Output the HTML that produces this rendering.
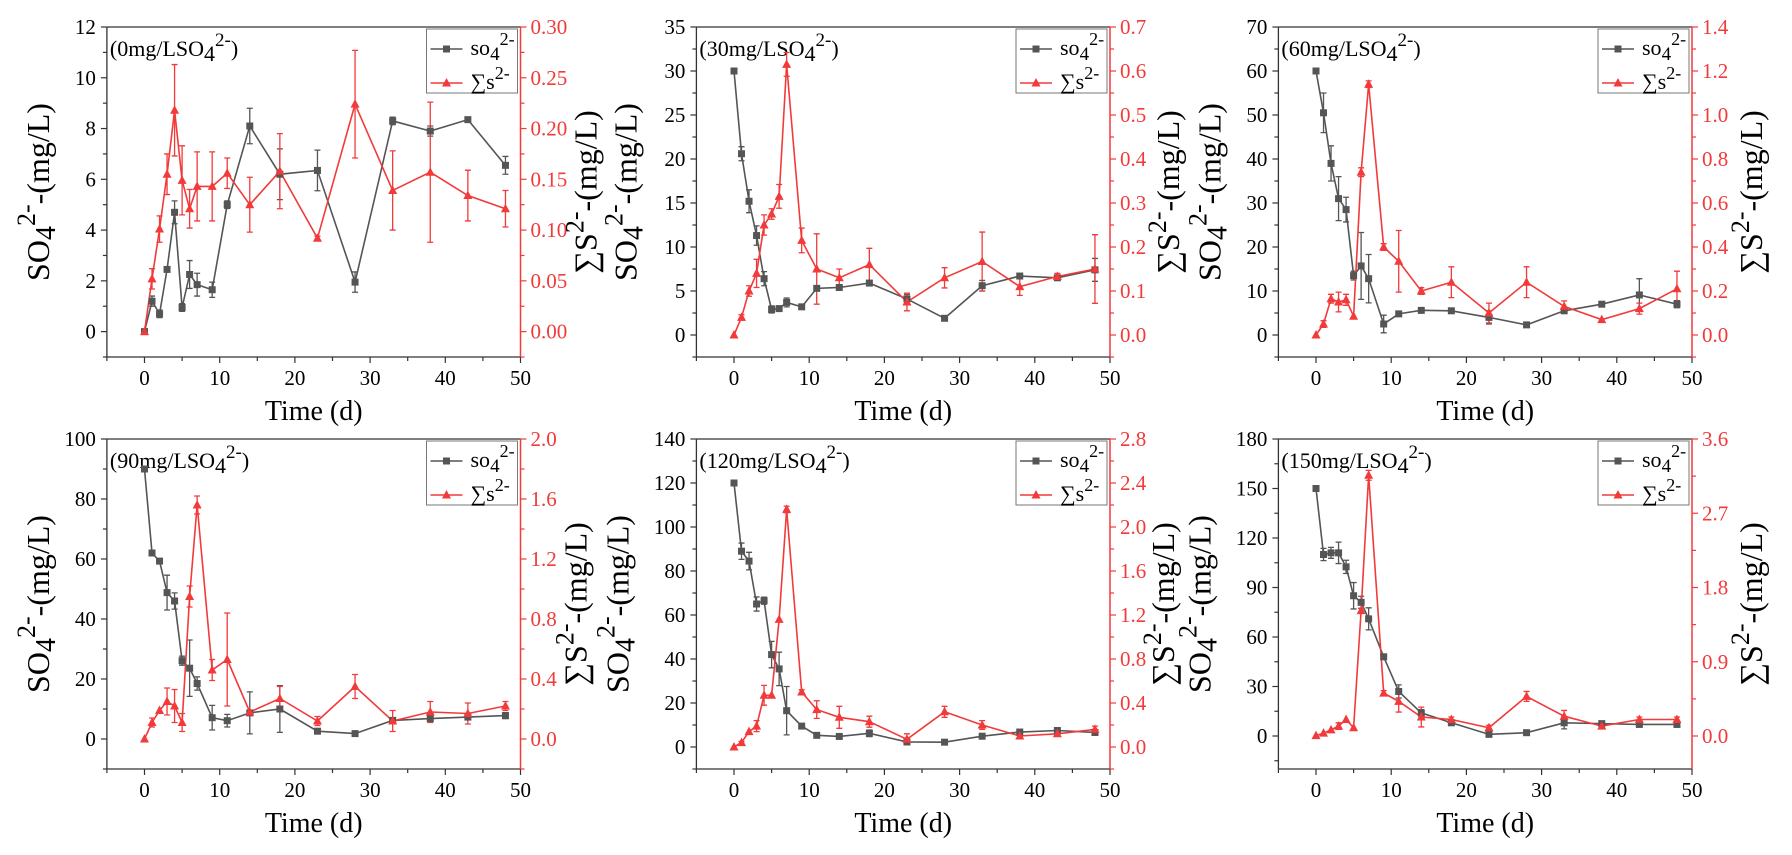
<!DOCTYPE html>
<html><head><meta charset="utf-8">
<style>
html,body{margin:0;padding:0;background:#fff;}
svg{display:block;font-family:"Liberation Serif",serif;}
</style></head>
<body>
<svg id="chart" width="1792" height="855" viewBox="0 0 1792 855" xmlns="http://www.w3.org/2000/svg"></svg>
<script>
// ---- data ----
const days = [0,1,2,3,4,5,6,7,9,11,14,18,23,28,33,38,43,48];
const xTicks = [0,10,20,30,40,50];
const panelLabels = ["0","30","60","90","120","150"];

const so4_p1 = [0,1.2,0.7,2.45,4.7,0.95,2.25,1.85,1.65,5.0,8.1,6.2,6.35,1.95,8.3,7.9,8.35,6.55];
const so4Err_p1 = [0,0.2,0.15,0,0.45,0.15,0.55,0.45,0.3,0.15,0.7,1.0,0.8,0.4,0.15,0.2,0,0.35];
const s_p1 = [0,0.052,0.101,0.155,0.218,0.149,0.121,0.143,0.143,0.156,0.125,0.158,0.092,0.224,0.139,0.157,0.134,0.121];
const sErr_p1 = [0,0.01,0.013,0.02,0.045,0.034,0.019,0.034,0.034,0.015,0.027,0.037,0.002,0.053,0.039,0.069,0.025,0.018];

const so4_p2 = [30,20.6,15.2,11.3,6.4,2.9,3.0,3.7,3.2,5.3,5.4,5.9,4.1,1.9,5.6,6.7,6.5,7.4];
const so4Err_p2 = [0,0.8,1.3,1.1,0.8,0.4,0,0.5,0,0,0,0.3,0.5,0,0.6,0,0,1.3];
const s_p2 = [0,0.04,0.10,0.14,0.25,0.275,0.315,0.615,0.215,0.15,0.13,0.16,0.075,0.13,0.167,0.11,0.133,0.15];
const sErr_p2 = [0,0.006,0.012,0.032,0.023,0.012,0.027,0.027,0.028,0.08,0.02,0.037,0.02,0.023,0.067,0.02,0.007,0.078];

const so4_p3 = [60,50.5,39,31,28.5,13.5,15.7,12.8,2.5,4.8,5.6,5.5,4,2.3,5.5,7,9.1,7];
const so4Err_p3 = [0,4.5,4,5,2.8,1,7.6,5.5,2,0,0,0,1.5,0,0,0,3.7,0.8];
const s_p3 = [0,0.05,0.165,0.15,0.16,0.085,0.74,1.14,0.4,0.335,0.2,0.24,0.1,0.24,0.13,0.07,0.12,0.21];
const sErr_p3 = [0,0.015,0.02,0.045,0.025,0,0.02,0.015,0.015,0.14,0.015,0.07,0.045,0.07,0.025,0,0.025,0.08];

const so4_p4 = [90,62,59.3,48.8,46,26.1,23.6,18.5,7.1,6.1,8.7,10,2.6,1.8,6.2,6.8,7.3,7.8];
const so4Err_p4 = [0,0,0,5.8,2.7,1.5,9.4,2.2,4.1,2.1,7,7.8,0,0,0.5,0.8,0.8,1];
const s_p4 = [0,0.11,0.19,0.25,0.22,0.11,0.95,1.56,0.46,0.53,0.18,0.27,0.12,0.35,0.12,0.18,0.17,0.22];
const sErr_p4 = [0,0.03,0,0.09,0.11,0.06,0.07,0.06,0.07,0.31,0,0.08,0.03,0.08,0.07,0.07,0.07,0.03];

const so4_p5 = [120,89,84.5,65,66.5,42,35.5,16.5,9.5,5.3,4.8,6.2,2.3,2.2,4.9,6.8,7.5,6.6];
const so4Err_p5 = [0,3.7,4,3.2,1.6,6,7.6,11,0,0,0,1.5,1,0,0,1,1,1];
const s_p5 = [0,0.04,0.14,0.19,0.47,0.47,1.16,2.16,0.5,0.34,0.27,0.23,0.07,0.32,0.2,0.1,0.12,0.16];
const sErr_p5 = [0,0.01,0,0.05,0.09,0,0,0.03,0.02,0.08,0.1,0.05,0.05,0.05,0.04,0.02,0.02,0.03];

const so4_p6 = [150,110,111,111,102.5,85,81,71,48,27,14,8,1,2,8,7.5,7,7];
const so4Err_p6 = [0,3.7,3.3,6.5,4,8,3.7,6.7,0,4,2,0,0,0,3.7,0,0,0];
const s_p6 = [0.005,0.035,0.075,0.12,0.2,0.1,1.52,3.16,0.52,0.42,0.23,0.2,0.1,0.48,0.24,0.12,0.2,0.2];
const sErr_p6 = [0,0,0,0.04,0,0,0.03,0.06,0.03,0.13,0.12,0.03,0.03,0.06,0.07,0.03,0.03,0.03];

const leftTicks = [[0,2,4,6,8,10,12],[0,5,10,15,20,25,30,35],[0,10,20,30,40,50,60,70],[0,20,40,60,80,100],[0,20,40,60,80,100,120,140],[0,30,60,90,120,150,180]];
const rightTicks = [[0,0.05,0.10,0.15,0.20,0.25,0.30],[0,0.1,0.2,0.3,0.4,0.5,0.6,0.7],[0,0.2,0.4,0.6,0.8,1.0,1.2,1.4],[0,0.4,0.8,1.2,1.6,2.0],[0,0.4,0.8,1.2,1.6,2.0,2.4,2.8],[0,0.9,1.8,2.7,3.6]];
const rightDecimals = [2,1,1,1,1,1];

const so4Series = [so4_p1,so4_p2,so4_p3,so4_p4,so4_p5,so4_p6];
const so4ErrSeries = [so4Err_p1,so4Err_p2,so4Err_p3,so4Err_p4,so4Err_p5,so4Err_p6];
const sSeries = [s_p1,s_p2,s_p3,s_p4,s_p5,s_p6];
const sErrSeries = [sErr_p1,sErr_p2,sErr_p3,sErr_p4,sErr_p5,sErr_p6];

// ---- layout (not data) ----
const layout = [
 {x0:144.5,top:27,bottom:357,ymin:-1,ymax:12,rmin:-0.025,rmax:0.30,lt:-58,rt:76},
 {x0:734,top:27,bottom:357,ymin:-2.5,ymax:35,rmin:-0.05,rmax:0.7,lt:-60,rt:69},
 {x0:1316,top:27,bottom:357,ymin:-5,ymax:70,rmin:-0.1,rmax:1.4,lt:-58,rt:70},
 {x0:144.5,top:439,bottom:769,ymin:-10,ymax:100,rmin:-0.2,rmax:2.0,lt:-58,rt:66},
 {x0:734,top:439,bottom:769,ymin:-10,ymax:140,rmin:-0.2,rmax:2.8,lt:-68,rt:64},
 {x0:1316,top:439,bottom:769,ymin:-20,ymax:180,rmin:-0.4,rmax:3.6,lt:-68,rt:70}
];
const PXU = 7.52;
const GRAY = "#555555", RED = "#f23a3a";
const NS = "http://www.w3.org/2000/svg";
const svg = document.getElementById("chart");

function mk(tag, attrs, parent){
  const e = document.createElementNS(NS, tag);
  for (const k in attrs) e.setAttribute(k, attrs[k]);
  (parent||svg).appendChild(e);
  return e;
}
function titleText(parent, cx, cy, kind){
  const t = mk("text",{x:0,y:0,"font-size":32,"text-anchor":"middle",fill:"#000",transform:`translate(${cx},${cy}) rotate(-90)`},parent);
  
  
  if (kind==='so4'){
    t.innerHTML = 'SO<tspan dy="6" font-size="28">4</tspan><tspan dy="-20" font-size="26">2-</tspan><tspan dy="14">-(mg/L)</tspan>';
  } else {
    t.innerHTML = '∑S<tspan dy="-13" font-size="26">2-</tspan><tspan dy="13">-(mg/L)</tspan>';
  }
}

layout.forEach((L, pi) => {
  const g = mk("g",{});
  
  
  const X = d => L.x0 + d*PXU;
  const Y = v => L.bottom - (v - L.ymin)/(L.ymax - L.ymin)*(L.bottom - L.top);
  const R = v => L.bottom - (v - L.rmin)/(L.rmax - L.rmin)*(L.bottom - L.top);
  const left = X(-5), right = X(50);

  mk("line",{x1:left,y1:L.top,x2:right,y2:L.top,stroke:"#333","stroke-width":1.3},g);
  const la = mk("line",{x1:left,y1:L.top,x2:left,y2:L.bottom,stroke:"#333","stroke-width":1.3},g);
   
  const xa = mk("line",{x1:left,y1:L.bottom,x2:right,y2:L.bottom,stroke:"#333","stroke-width":1.3},g);
   
  const ra = mk("line",{x1:right,y1:L.top,x2:right,y2:L.bottom,stroke:RED,"stroke-width":1.5},g);
   

  for (let d=-5; d<=50; d+=5){
    const major = d%10===0;
    mk("line",{x1:X(d),y1:L.bottom,x2:X(d),y2:L.bottom+(major?6:4),stroke:"#333","stroke-width":1.2},g);
  }
  xTicks.forEach(d=>{
    const t = mk("text",{x:X(d),y:L.bottom+28,"font-size":21,"text-anchor":"middle",fill:"#000"},g);
     
    t.textContent = d;
  });
  const xt = mk("text",{x:X(22.5),y:L.bottom+63,"font-size":28,"text-anchor":"middle",fill:"#000"},g);
   
  xt.textContent = "Time (d)";

  const lt = leftTicks[pi], lstep = lt[1]-lt[0];
  for (let v=lt[0]-lstep/2; v<=L.ymax+1e-9; v+=lstep/2){
    if (v < L.ymin-1e-9) continue;
    const major = Math.abs(((v-lt[0])/lstep) - Math.round((v-lt[0])/lstep))<1e-6;
    mk("line",{x1:left,y1:Y(v),x2:left-(major?6:4),y2:Y(v),stroke:"#333","stroke-width":1.2},g);
  }
  lt.forEach(v=>{
    const t = mk("text",{x:left-11,y:Y(v)+7,"font-size":21,"text-anchor":"end",fill:"#000"},g);
     
    t.textContent = v;
  });
  const rt = rightTicks[pi], rstep = rt[1]-rt[0];
  for (let v=rt[0]-rstep/2; v<=L.rmax+1e-9; v+=rstep/2){
    if (v < L.rmin-1e-9) continue;
    const major = Math.abs(((v-rt[0])/rstep) - Math.round((v-rt[0])/rstep))<1e-6;
    mk("line",{x1:right,y1:R(v),x2:right+(major?6:4),y2:R(v),stroke:RED,"stroke-width":1.2},g);
  }
  rt.forEach(v=>{
    const t = mk("text",{x:right+10,y:R(v)+7,"font-size":21,"text-anchor":"start",fill:RED},g);
     
    t.textContent = v.toFixed(rightDecimals[pi]);
  });

  titleText(g, left+L.lt, (L.top+L.bottom)/2, 'so4');
  titleText(g, right+L.rt, (L.top+L.bottom)/2, 's');

  const an = mk("text",{x:left+3,y:L.top+29,"font-size":22,fill:"#000"},g);
   
  an.innerHTML = '(' + panelLabels[pi] + 'mg/LSO<tspan dy="5" font-size="22">4</tspan><tspan dy="-15" font-size="19">2-</tspan><tspan dy="10">)</tspan>';

  const so4 = so4Series[pi], so4e = so4ErrSeries[pi];
  const s = sSeries[pi], se = sErrSeries[pi];

  const ls = mk("polyline",{points:days.map((d,i)=>X(d)+","+Y(so4[i])).join(" "),fill:"none",stroke:GRAY,"stroke-width":1.6},g);
   
  days.forEach((d,i)=>{
    if (so4e[i]>0){
      const y1=Y(so4[i]-so4e[i]), y2=Y(so4[i]+so4e[i]), x=X(d);
      const eb = mk("path",{d:`M${x},${y1}V${y2}M${x-3},${y1}H${x+3}M${x-3},${y2}H${x+3}`,stroke:GRAY,"stroke-width":1.3,fill:"none"},g);
       
    }
  });
  const ln = mk("polyline",{points:days.map((d,i)=>X(d)+","+R(s[i])).join(" "),fill:"none",stroke:RED,"stroke-width":1.6},g);
   
  days.forEach((d,i)=>{
    if (se[i]>0){
      const y1=R(s[i]-se[i]), y2=R(s[i]+se[i]), x=X(d);
      const eb = mk("path",{d:`M${x},${y1}V${y2}M${x-3},${y1}H${x+3}M${x-3},${y2}H${x+3}`,stroke:RED,"stroke-width":1.3,fill:"none"},g);
       
    }
  });
  days.forEach((d,i)=>{
    const m = mk("rect",{x:X(d)-3.5,y:Y(so4[i])-3.5,width:7,height:7,fill:GRAY},g);
     
  });
  days.forEach((d,i)=>{
    const x=X(d), y=R(s[i]);
    const m = mk("polygon",{points:`${x},${y-5} ${x-4.5},${y+3.5} ${x+4.5},${y+3.5}`,fill:RED},g);
     
  });

  const lg = mk("g",{},g);
   
  const bx = right-94, by = L.top+2;
  mk("rect",{x:bx,y:by,width:91,height:64,fill:"#fff",stroke:"#777","stroke-width":1},lg);
  const e1y = by+20, e2y = by+54;
  const le1 = mk("g",{},lg);
   
  mk("line",{x1:bx+4,y1:e1y,x2:bx+36,y2:e1y,stroke:GRAY,"stroke-width":1.6},le1);
  mk("rect",{x:bx+16.5,y:e1y-3.5,width:7,height:7,fill:GRAY},le1);
  const t1 = mk("text",{x:bx+44,y:e1y+6,"font-size":22,fill:"#000"},le1);
  t1.innerHTML = 'so<tspan dy="5" font-size="19">4</tspan><tspan dy="-15" font-size="18">2-</tspan>';
  const le2 = mk("g",{},lg);
   
  mk("line",{x1:bx+4,y1:e2y,x2:bx+36,y2:e2y,stroke:RED,"stroke-width":1.6},le2);
  mk("polygon",{points:`${bx+20},${e2y-5} ${bx+15.5},${e2y+3.5} ${bx+24.5},${e2y+3.5}`,fill:RED},le2);
  const t2 = mk("text",{x:bx+44,y:e2y+6,"font-size":22,fill:"#000"},le2);
  t2.innerHTML = '∑s<tspan dy="-10" font-size="18">2-</tspan>';
});
</script>
</body></html>
